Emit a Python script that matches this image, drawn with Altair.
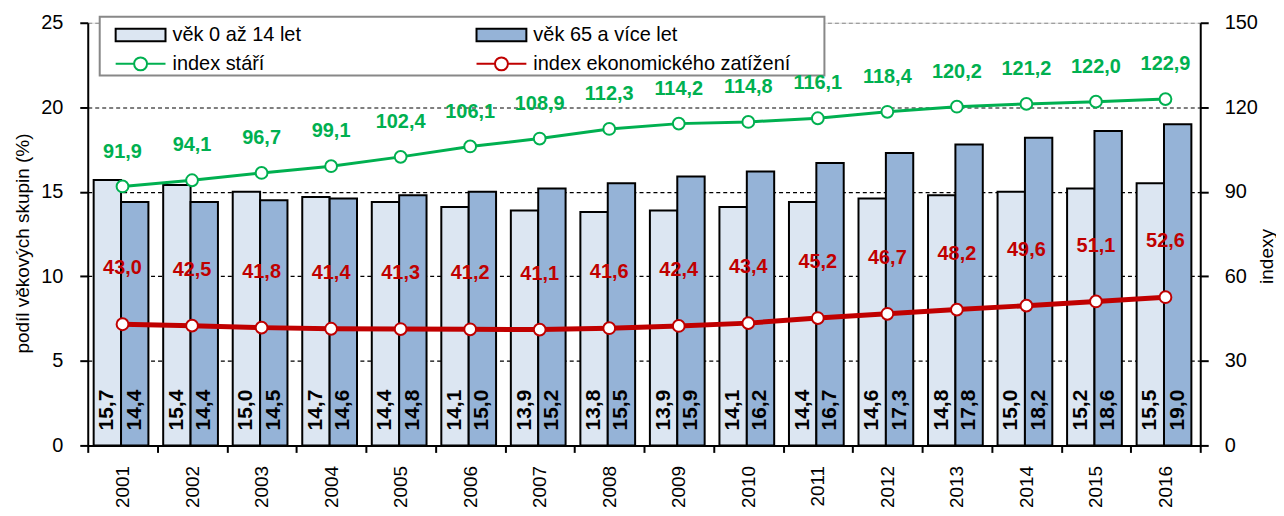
import altair as alt
import pandas as pd

years = [str(y) for y in range(2001, 2017)]
young = [15.7, 15.4, 15.0, 14.7, 14.4, 14.1, 13.9, 13.8, 13.9, 14.1, 14.4, 14.6, 14.8, 15.0, 15.2, 15.5]
old = [14.4, 14.4, 14.5, 14.6, 14.8, 15.0, 15.2, 15.5, 15.9, 16.2, 16.7, 17.3, 17.8, 18.2, 18.6, 19.0]
idx_stari = [91.9, 94.1, 96.7, 99.1, 102.4, 106.1, 108.9, 112.3, 114.2, 114.8, 116.1, 118.4, 120.2, 121.2, 122.0, 122.9]
idx_ez = [43.0, 42.5, 41.8, 41.4, 41.3, 41.2, 41.1, 41.6, 42.4, 43.4, 45.2, 46.7, 48.2, 49.6, 51.1, 52.6]

s_young = "věk 0 až 14 let"
s_old = "věk 65 a více let"
s_stari = "index stáří"
s_ez = "index ekonomického zatížení"

FONT = "Liberation Sans"
GREEN = "#00b050"
RED = "#c00000"

bars_df = pd.DataFrame({
    "year": years * 2,
    "group": [s_young] * len(years) + [s_old] * len(years),
    "value": young + old,
})
lines_df = pd.DataFrame({
    "year": years * 2,
    "series": [s_stari] * len(years) + [s_ez] * len(years),
    "value": idx_stari + idx_ez,
})

x_enc = alt.X(
    "year:O",
    title=None,
    scale=alt.Scale(paddingInner=0, paddingOuter=0),
    axis=alt.Axis(
        labelAngle=270, labelAlign="right", labelBaseline="middle",
        labelFontSize=19, labelFont=FONT, labelColor="black", labelPadding=13,
        tickBand="extent", tickSize=7, tickColor="black", tickWidth=2,
        domainColor="black", domainWidth=2,
    ),
)

left_scale = alt.Scale(domain=[0, 25], nice=False, zero=True)
left_axis = alt.Axis(
    title="podíl věkových skupin (%)",
    values=[0, 5, 10, 15, 20, 25],
    labelFontSize=20, labelFont=FONT, labelColor="black", labelPadding=17,
    titleFontSize=19, titleFont=FONT, titleFontWeight="normal", titleColor="black",
    titlePadding=8, titleY=221,
    tickSize=8, tickColor="black", tickWidth=2,
    domainColor="black", domainWidth=2,
    grid=True,
    gridColor={"condition": {"test": "datum.value === 25", "value": "#888888"}, "value": "black"},
    gridDash=[4, 3], gridWidth=1.2,
)

right_scale = alt.Scale(domain=[0, 150], nice=False, zero=True)
right_axis = alt.Axis(
    title="indexy", orient="right",
    values=[0, 30, 60, 90, 120, 150],
    labelFontSize=20, labelFont=FONT, labelColor="black", labelPadding=16,
    titleFontSize=19, titleFont=FONT, titleFontWeight="normal", titleColor="black",
    titleAngle=270, titleBaseline="top", titlePadding=0, titleY=234,
    tickSize=8, tickColor="black", tickWidth=2,
    domainColor="black", domainWidth=2, grid=False,
)

fill_scale = alt.Scale(domain=[s_young, s_old], range=["#dce6f2", "#95b3d7"])
stroke_scale = alt.Scale(domain=[s_stari, s_ez], range=[GREEN, RED])

fill_legend = alt.Legend(
    title=None, orient="none", legendX=27, legendY=-14,
    direction="horizontal", columns=2, columnPadding=172,
    symbolType="M-1,-0.25H1V0.25H-1Z", symbolSize=2500,
    symbolStrokeColor="black", symbolStrokeWidth=2, symbolOpacity=1,
    labelFontSize=20, labelFont=FONT, labelColor="black", labelOffset=6,
    labelLimit=500, padding=0, rowPadding=0,
)
stroke_legend = alt.Legend(
    title=None, orient="none", legendX=27, legendY=15,
    direction="horizontal", columns=2, columnPadding=208,
    symbolType="M-1,0H-0.26M0.26,0H1M-0.26,0A0.26,0.26 0 1 1 0.26,0A0.26,0.26 0 1 1 -0.26,0",
    symbolSize=2500, symbolFillColor="white", symbolStrokeWidth=2, symbolOpacity=1,
    labelFontSize=20, labelFont=FONT, labelColor="black", labelOffset=6,
    labelLimit=500, padding=0, rowPadding=0,
)

xoff = alt.XOffset(
    "group:N", sort=[s_young, s_old],
    scale=alt.Scale(domain=[s_young, s_old], paddingInner=0, paddingOuter=0.27, align=0.4),
)

bars = alt.Chart(bars_df).mark_bar(stroke="black", strokeWidth=2, opacity=1).encode(
    x=x_enc,
    xOffset=xoff,
    y=alt.Y("value:Q", scale=left_scale, axis=left_axis),
    fill=alt.Fill("group:N", scale=fill_scale, legend=fill_legend),
)

label_expr = "replace(format(datum.value, '.1f'), '.', ',')"

bar_labels = alt.Chart(bars_df).transform_calculate(
    label=label_expr,
    base="0",
).mark_text(
    angle=270, align="left", baseline="middle", dx=15,
    fontSize=21, fontWeight="bold", font=FONT, color="black",
).encode(
    x=x_enc,
    xOffset=xoff,
    y=alt.Y("base:Q", scale=left_scale, axis=left_axis),
    text="label:N",
)

left = alt.layer(bars, bar_labels)

frame = alt.Chart(alt.Data(values=[{}])).mark_rect(
    fill="white", stroke="#888888", strokeWidth=2
).encode(
    x=alt.value(12), x2=alt.value(739), y=alt.value(-6), y2=alt.value(53),
)

y_right = alt.Y("value:Q", scale=right_scale, axis=right_axis)

lines = alt.Chart(lines_df).mark_line(strokeWidth=3).encode(
    x=x_enc,
    y=y_right,
    stroke=alt.Stroke("series:N", scale=stroke_scale, legend=stroke_legend),
)

red_thick = alt.Chart(lines_df).transform_filter(
    alt.datum.series == s_ez
).mark_line(strokeWidth=5, color=RED).encode(
    x=x_enc,
    y=y_right,
)

points = alt.Chart(lines_df).mark_point(
    shape="circle", filled=True, fill="white", size=140, strokeWidth=2, opacity=1
).encode(
    x=x_enc,
    y=y_right,
    stroke=alt.Stroke("series:N", scale=stroke_scale, legend=stroke_legend),
)

green_labels = alt.Chart(lines_df).transform_filter(
    alt.datum.series == s_stari
).transform_calculate(label=label_expr).mark_text(
    dy=-35, fontSize=20, fontWeight="bold", font=FONT, color=GREEN, baseline="middle"
).encode(x=x_enc, y=y_right, text="label:N")

red_labels = alt.Chart(lines_df).transform_filter(
    alt.datum.series == s_ez
).transform_calculate(label=label_expr).mark_text(
    dy=-56, fontSize=20, fontWeight="bold", font=FONT, color=RED, baseline="middle"
).encode(x=x_enc, y=y_right, text="label:N")

right = alt.layer(frame, lines, red_thick, points, green_labels, red_labels)

chart = alt.layer(left, right).resolve_scale(y="independent").properties(
    width=1116, height=424,
    autosize=alt.AutoSizeParams(type="none"),
    padding={"left": 80, "top": 14, "right": 76, "bottom": 62},
).configure_view(stroke=None).configure(font=FONT)

chart.save("out.html", embed_options={"renderer": "svg", "actions": False})
